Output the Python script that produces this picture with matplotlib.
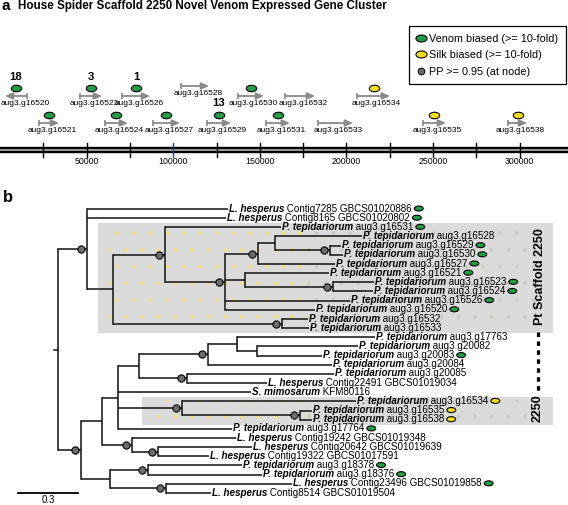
import matplotlib
matplotlib.use('Agg')
import matplotlib.pyplot as plt
from matplotlib.path import Path
from matplotlib.transforms import Affine2D
from matplotlib.lines import Line2D
from matplotlib.patches import Rectangle, Ellipse
from matplotlib.offsetbox import TextArea, HPacker, DrawingArea, AnnotationBbox

plt.rcParams['font.family'] = ['Liberation Sans', 'DejaVu Sans']
plt.rcParams['hatch.linewidth'] = 0.5

# ---------------- panel a data ----------------
gene_names = ['aug3.g16520', 'aug3.g16521', 'aug3.g16523', 'aug3.g16524', 'aug3.g16526',
              'aug3.g16527', 'aug3.g16528', 'aug3.g16529', 'aug3.g16530', 'aug3.g16531',
              'aug3.g16532', 'aug3.g16533', 'aug3.g16534', 'aug3.g16535', 'aug3.g16538']
gene_start = [2900, 22500, 46200, 60600, 70400, 88300, 104500, 119500, 137400, 153600,
              164600, 183600, 206100, 244200, 293300]
gene_end = [15600, 34100, 58900, 73900, 86600, 103900, 120700, 133400, 152400, 167400,
            181900, 203800, 225200, 257500, 304300]
gene_strand = [-1, 1, 1, 1, 1, 1, 1, 1, 1, 1, 1, 1, 1, 1, 1]
gene_tier = [1, 0, 1, 0, 1, 0, 2, 0, 1, 0, 1, 0, 1, 0, 0]
gene_bias = ['venom', 'venom', 'venom', 'venom', 'venom', 'venom', '', 'venom', 'venom',
             'venom', '', '', 'silk', 'silk', 'silk']
gene_rank = {'aug3.g16520': '18', 'aug3.g16523': '3', 'aug3.g16526': '1', 'aug3.g16529': '13'}
axis_ticks = [25000, 50000, 75000, 100000, 125000, 150000, 175000, 200000, 225000,
              250000, 275000, 300000]
axis_labels = [50000, 100000, 150000, 200000, 250000, 300000]

# ---------------- panel b data ----------------
# newick, branch lengths in substitutions/site, '*' = PP >= 0.95
tree_newick = (
    "((Lh_Contig7285_GBCS01020886:0.705,Lh_Contig8165_GBCS01020802:0.695,"
    "((Pt_aug3.g16531:0.58,(((Pt_aug3.g16528:0.435,(Pt_aug3.g16529:0.055,Pt_aug3.g16530:0.065)*:0.275):0.085,"
    "Pt_aug3.g16527:0.385)*:0.165,(Pt_aug3.g16521:0.42,(Pt_aug3.g16523:0.205,Pt_aug3.g16524:0.20)*:0.44):0.10,"
    "Pt_aug3.g16526:0.625,Pt_aug3.g16520:0.45)*:0.30)*:0.26,"
    "(Pt_aug3.g16532:0.13,Pt_aug3.g16533:0.135)*:0.845):0.13)*:0.145,"
    "((((((Pt_aug3.g17763:0.69,(Pt_aug3.g20082:0.505,Pt_aug3.g20083:0.325):0.10):0.145,Pt_aug3.g20084:0.62)*:0.345,"
    "(Pt_aug3.g20085:0.735,Lh_Contig22491_GBCS01019034:0.40)*:0.24):0.105,Sm_KFM80116:0.665,"
    "(Pt_aug3.g16534:0.87,(Pt_aug3.g16535:0.06,Pt_aug3.g16538:0.06)*:0.59)*:0.32,Pt_aug3.g17764:0.57):0.08,"
    "(Lh_Contig19242_GBCS01019348:0.52,(Lh_Contig20642_GBCS01019639:0.47,Lh_Contig19322_GBCS01017591:0.255)*:0.13)*:0.15):0.105,"
    "((Pt_aug3.g18378:0.47,Pt_aug3.g18376:0.57)*:0.19,"
    "(Lh_Contig23496_GBCS01019858:0.63,Lh_Contig8514_GBCS01019504:0.225)*:0.28):0.145)*:0.115);"
)
species = {'Lh': 'L. hesperus', 'Pt': 'P. tepidariorum', 'Sm': 'S. mimosarum'}
venom_leaves = ['Lh_Contig7285_GBCS01020886', 'Lh_Contig8165_GBCS01020802', 'Pt_aug3.g16531',
                'Pt_aug3.g16529', 'Pt_aug3.g16530', 'Pt_aug3.g16527', 'Pt_aug3.g16521',
                'Pt_aug3.g16523', 'Pt_aug3.g16524', 'Pt_aug3.g16526', 'Pt_aug3.g16520',
                'Pt_aug3.g20083', 'Pt_aug3.g17764', 'Pt_aug3.g18378', 'Pt_aug3.g18376',
                'Lh_Contig23496_GBCS01019858']
silk_leaves = ['Pt_aug3.g16534', 'Pt_aug3.g16535', 'Pt_aug3.g16538']
scale_length = 0.3

GREEN = '#1f9e45'
YELLOW = '#f3df14'
DOTGREY = '#6d6d6d'
ARROWGREY = '#8a8a8a'

W, H = 568, 505
fig = plt.figure(figsize=(W / 100, H / 100), dpi=100)

ellipse_marker = Path.unit_circle().transformed(Affine2D().scale(1.6, 1.0))

# ================= panel a =================
axa = fig.add_axes([0, 0, 1, 1])
axa.set_xlim(0, W / 0.001732)
axa.set_ylim(H, 0)
axa.axis('off')

fig.text(2 / W, 1 - 6 / H, 'a', fontsize=11, fontweight='bold', va='center', ha='left')
fig.text(18 / W, 1 - 6 / H, 'House Spider Scaffold 2250 Novel Venom Expressed Gene Cluster',
         fontsize=8.4, fontweight='bold', va='center', ha='left')

# chromosome bar
xmax = axa.get_xlim()[1]
axa.plot([0, xmax], [150, 150], color='black', lw=4.6, solid_capstyle='butt')
axa.plot([0, xmax], [150, 150], color='#9a9a9a', lw=1.4, solid_capstyle='butt')
for t in axis_ticks:
    axa.plot([t, t], [143, 157], color='#2a3a9a' if t == 100000 else 'black', lw=1.0)
for t in axis_labels:
    axa.text(t, 161.5, str(t), ha='center', va='center', fontsize=6.3)

tier_y = {0: 123, 1: 96, 2: 86}
for name, s, e, strand, tier, bias in zip(gene_names, gene_start, gene_end, gene_strand,
                                          gene_tier, gene_bias):
    y = tier_y[tier]
    tail, head = (s, e) if strand > 0 else (e, s)
    axa.annotate('', xy=(head, y), xytext=(tail, y),
                 arrowprops=dict(arrowstyle='-|>,head_length=0.45,head_width=0.2',
                                 color=ARROWGREY, lw=1.3, shrinkA=0, shrinkB=0))
    axa.plot(tail, y, marker='|', ms=4.5, mew=1.2, color=ARROWGREY)
    mid = (s + e) / 2
    axa.annotate(name, xy=(mid, y), xytext=(2.0 if strand > 0 else 6.5, -5.3),
                 textcoords='offset points', ha='center', va='center', fontsize=6.0)
    if bias:
        axa.plot(mid, y - 8.5, marker=ellipse_marker, ms=7.5, mfc=GREEN if bias == 'venom' else YELLOW,
                 mec='black', mew=0.8)
    if name in gene_rank:
        axa.text(mid, y - 19.5, gene_rank[name], ha='center', va='center', fontsize=8.2,
                 fontweight='bold')

handles = [Line2D([], [], ls='none', marker=ellipse_marker, ms=8, mfc=GREEN, mec='black', mew=0.8),
           Line2D([], [], ls='none', marker=ellipse_marker, ms=8, mfc=YELLOW, mec='black', mew=0.8),
           Line2D([], [], ls='none', marker='o', ms=4.8, mfc=DOTGREY, mec='black', mew=0.7)]
leg = axa.legend(handles, ['Venom biased (>= 10-fold)', 'Silk biased (>= 10-fold)',
                           'PP >= 0.95 (at node)'],
                 loc='upper right', bbox_to_anchor=(566 / W, 1 - 26 / H),
                 bbox_transform=fig.transFigure, fontsize=7.8, frameon=True, fancybox=False,
                 edgecolor='black', framealpha=1, handlelength=0.8, handletextpad=0.4,
                 labelspacing=0.6, borderpad=0.7, borderaxespad=0)
leg.get_frame().set_linewidth(0.9)

# ================= panel b =================
def parse_newick(s):
    s = s.strip().rstrip(';')
    pos = 0

    def node():
        nonlocal pos
        kids = []
        if s[pos] == '(':
            pos += 1
            kids.append(node())
            while s[pos] == ',':
                pos += 1
                kids.append(node())
            pos += 1
        start = pos
        while pos < len(s) and s[pos] not in ',():':
            pos += 1
        name = s[start:pos]
        length = 0.0
        if pos < len(s) and s[pos] == ':':
            pos += 1
            start = pos
            while pos < len(s) and s[pos] not in ',()':
                pos += 1
            length = float(s[start:pos])
        return {'name': name, 'len': length, 'kids': kids}

    return node()


root = parse_newick(tree_newick)
leaves = []


def layout(n, x):
    n['x'] = x
    if not n['kids']:
        n['y'] = len(leaves)
        leaves.append(n)
        return
    for k in n['kids']:
        layout(k, x + k['len'])
    n['y'] = (n['kids'][0]['y'] + n['kids'][-1]['y']) / 2


layout(root, 0.0)

PX = 200.0      # pixels per substitution unit
ROW = 9.16      # pixels per leaf row
axb = fig.add_axes([0, 0, 1, 1])
axb.patch.set_alpha(0)
axb.set_xlim(-58 / PX, (W - 58) / PX)
axb.set_ylim((H - 209) / ROW, -209 / ROW)
axb.axis('off')

fig.text(3 / W, 1 - 197 / H, 'b', fontsize=12, fontweight='bold', va='center', ha='left')

idx = {n['name']: n['y'] for n in leaves}

# shaded scaffold groups
for first, last, left in [('Pt_aug3.g16531', 'Pt_aug3.g16533', 0.2),
                          ('Pt_aug3.g16534', 'Pt_aug3.g16538', 0.42)]:
    y0, y1 = idx[first] - 0.5, idx[last] + 0.55
    axb.add_patch(Rectangle((left, y0), 2.475 - left, y1 - y0, fc='#dbdbdb', ec='none', zorder=0))
    # faint speckled texture of the original scan
    axb.add_patch(Rectangle((left + 0.05, y0 + 0.4), 1.0, y1 - y0 - 0.8, fc='none',
                            ec='#ebe08c', lw=0, hatch='.', zorder=0.5))
    axb.add_patch(Rectangle((1.25, y0 + 0.4), 1.15, y1 - y0 - 0.8, fc='none',
                            ec='#cdcdc6', lw=0, hatch='.', zorder=0.5))

LW = 1.1
dots_x, dots_y = [], []


def draw(n):
    if n['kids']:
        ys = [k['y'] for k in n['kids']]
        axb.plot([n['x'], n['x']], [min(ys), max(ys)], color='#111111', lw=LW,
                 solid_capstyle='projecting', zorder=2)
        for k in n['kids']:
            axb.plot([n['x'], k['x']], [k['y'], k['y']], color='#111111', lw=LW,
                     solid_capstyle='butt', zorder=2)
            if k['name'] == '*':
                dots_x.append(k['x'] - 0.032)
                dots_y.append(k['y'])
            draw(k)


draw(root)
axb.plot([root['x'] - 0.02, root['x']], [root['y'], root['y']], color='#111111', lw=LW, zorder=2)
axb.plot(dots_x, dots_y, ls='none', marker='o', ms=5.2, mfc=DOTGREY, mec='black', mew=0.8,
         zorder=3)

FS = 7.1
for n in leaves:
    code, rest = n['name'].split('_', 1)
    parts = [TextArea(species[code], textprops=dict(fontsize=FS, fontstyle='italic',
                                                    fontweight='bold')),
             TextArea(' ' + rest.replace('_', ' '), textprops=dict(fontsize=FS))]
    bias = 'venom' if n['name'] in venom_leaves else ('silk' if n['name'] in silk_leaves else '')
    if bias:
        da = DrawingArea(8.5, 4.2, 0, 0.2)
        da.add_artist(Ellipse((4.8, 2.2), 6.4, 3.6, fc=GREEN if bias == 'venom' else YELLOW,
                              ec='black', lw=0.8))
        parts.append(da)
    box = HPacker(children=parts, align='baseline', pad=0, sep=0)
    axb.add_artist(AnnotationBbox(box, (n['x'], n['y']), xybox=(0.8, 0.3),
                                  boxcoords='offset points', box_alignment=(0, 0.5),
                                  frameon=False, pad=0, zorder=4))

# scaffold annotations
axb.text(2.41, 7.4, 'Pt Scaffold 2250', rotation=90, fontsize=9, fontweight='bold',
         ha='center', va='center', zorder=5)
axb.plot([2.40, 2.40], [13.4, 20.2], color='black', lw=2.3, ls=(0, (1.4, 1.4)), zorder=5)
axb.text(2.40, idx['Pt_aug3.g16535'] - 0.3, '2250', rotation=90, fontsize=9,
         fontweight='bold', ha='center', va='center', zorder=5)

# scale bar
axb.plot([-0.2, -0.2 + scale_length], [31.0, 31.0], color='black', lw=1.3)
axb.text(-0.2 + scale_length / 2, 31.75, str(scale_length), ha='center', va='center',
         fontsize=7)

fig.savefig('out.png', dpi=100)
